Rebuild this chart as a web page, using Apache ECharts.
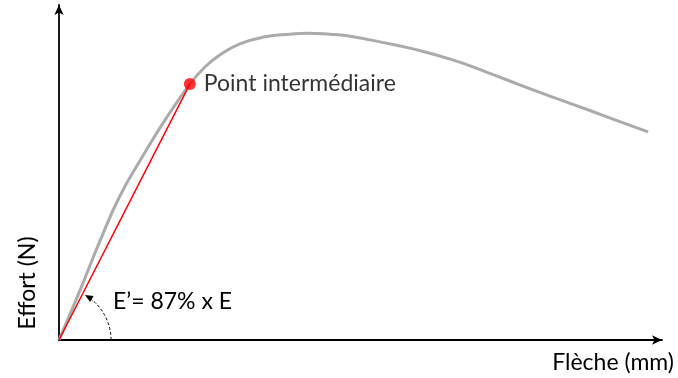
<!DOCTYPE html>
<html><head><meta charset="utf-8">
<script src="https://cdn.jsdelivr.net/npm/echarts@6/dist/echarts.min.js"></script>
<style>html,body{margin:0;padding:0;background:#fff}#c{width:678px;height:378px}</style>
</head><body><div id="c"></div>
<script>
// Force–deflection curve (arbitrary units)
const curveX = [0, 3.5, 6.8, 10.1, 13.8, 17.6, 21.7, 24.2, 26.7, 30.0, 34.2, 38.3, 41.1, 44.9, 47.8, 53.2, 58.7, 65.3, 71.0, 76.5, 81.9, 87.6, 93.0, 97.7];
const curveY = [0, 14.9, 29.6, 43.0, 54.6, 65.7, 76.4, 81.5, 85.1, 88.4, 90.5, 91.3, 91.6, 91.3, 90.8, 89.0, 86.9, 83.6, 79.9, 76.1, 72.5, 68.8, 65.2, 62.1];
// Intermediate point (secant modulus)
const pointX = [21.7];
const pointY = [76.4];
const pointLabel = 'Point intermédiaire';
const modulusLabel = 'E\u2019= 87% x E';
const xName = 'Flèche (mm)';
const yName = 'Effort (N)';

const FONT = 'Lato, "Open Sans", sans-serif';
const chart = echarts.init(document.getElementById('c'));
chart.setOption({
  animation: false,
  grid: {left: 59, right: 16, top: 5, bottom: 38},
  xAxis: {
    type: 'value', min: 0, max: 100,
    axisLine: {show: true, lineStyle: {color: '#000', width: 1.8}, symbol: ['none', 'arrow'], symbolSize: [7, 10]},
    axisTick: {show: false}, axisLabel: {show: false}, splitLine: {show: false},
    name: xName, nameLocation: 'end', nameGap: 12,
    nameTextStyle: {align: 'right', verticalAlign: 'top', padding: [11, 0, 0, 0], fontSize: 23, color: '#000', fontFamily: FONT}
  },
  yAxis: {
    type: 'value', min: 0, max: 100,
    axisLine: {show: true, lineStyle: {color: '#000', width: 1.8}, symbol: ['none', 'arrow'], symbolSize: [7, 10]},
    axisTick: {show: false}, axisLabel: {show: false}, splitLine: {show: false}
  },
  series: [
    {type: 'line', data: curveX.map((x, i) => [x, curveY[i]]), smooth: true, showSymbol: false,
     lineStyle: {color: '#ababab', width: 3}, z: 2},
    {type: 'line', data: [[0, 0], [pointX[0], pointY[0]]], showSymbol: false,
     lineStyle: {color: '#ff0000', width: 1.5}, z: 3},
    {type: 'scatter', data: [[pointX[0], pointY[0]]], symbolSize: 12, itemStyle: {color: '#ff0000'}, z: 4,
     label: {show: true, position: 'right', distance: 8, formatter: pointLabel, fontSize: 23, color: '#000', fontFamily: FONT}}
  ]
});

function annotate() {
  const o = chart.convertToPixel({gridIndex: 0}, [0, 0]);
  const p = chart.convertToPixel({gridIndex: 0}, [pointX[0], pointY[0]]);
  const ang = Math.atan2(o[1] - p[1], p[0] - o[0]);
  const r = 52;
  const endA = ang - 0.05;
  const tip = [o[0] + r * Math.cos(endA), o[1] - r * Math.sin(endA)];
  const dir = [-Math.sin(endA), -Math.cos(endA)];
  const nrm = [-dir[1], dir[0]];
  const L = 8, W = 3.5;
  const base = [tip[0] - dir[0] * L, tip[1] - dir[1] * L];
  chart.setOption({
    graphic: [
      {type: 'arc', shape: {cx: o[0], cy: o[1], r: r, startAngle: -endA + 0.12, endAngle: 0, clockwise: true},
       style: {stroke: '#000', lineWidth: 1, lineDash: [3, 2], fill: null}},
      {type: 'polygon', shape: {points: [tip, [base[0] + nrm[0] * W, base[1] + nrm[1] * W], [base[0] - nrm[0] * W, base[1] - nrm[1] * W]]},
       style: {fill: '#000'}},
      {type: 'text', x: o[0] + 54, y: o[1] - 38,
       style: {text: modulusLabel, font: '23px ' + FONT, fill: '#000', verticalAlign: 'middle', align: 'left'}},
      {type: 'text', x: 28, y: 283, rotation: Math.PI / 2,
       style: {text: yName, font: '23px ' + FONT, fill: '#000', verticalAlign: 'middle', align: 'center'}}
    ]
  });
}
annotate();
</script></body></html>
